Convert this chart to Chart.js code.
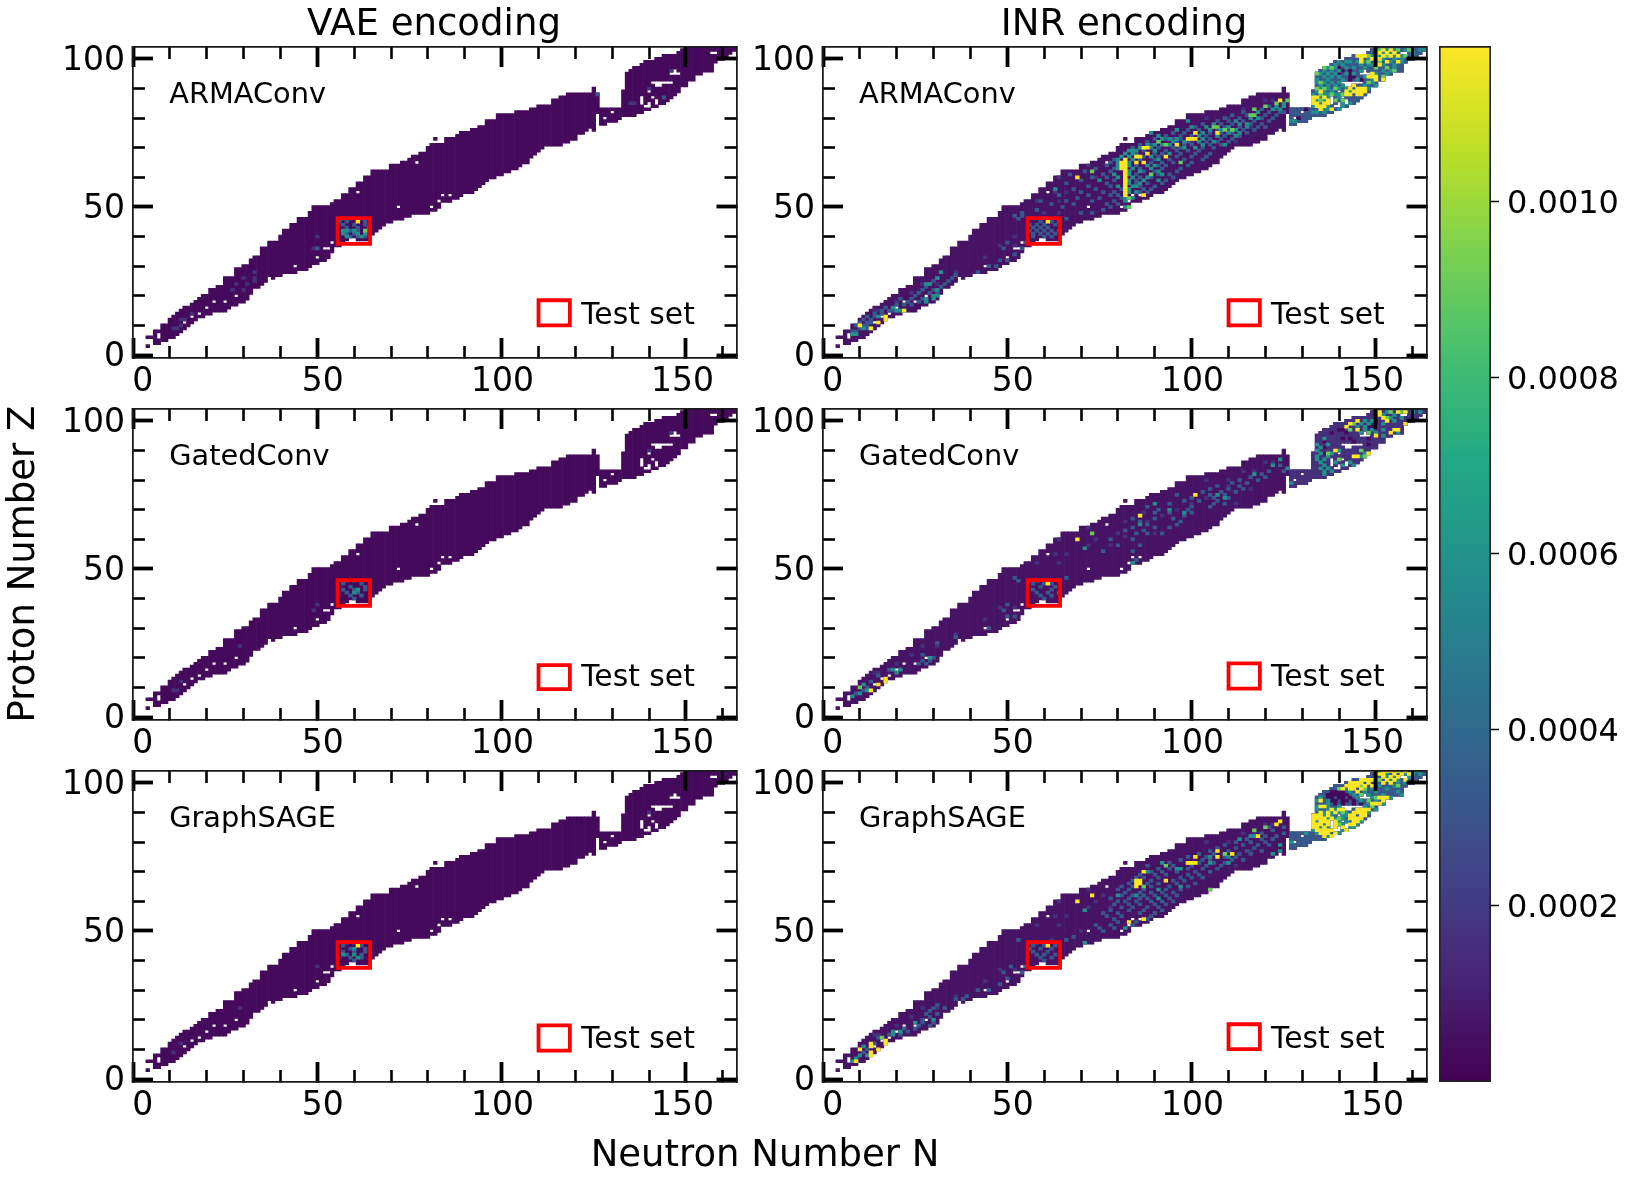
<!DOCTYPE html>
<html>
<head>
<meta charset="utf-8">
<script src="https://cdn.jsdelivr.net/npm/chart.js@4"></script>
<style>
  html, body { margin: 0; padding: 0; background: #fff; }
  body { position: relative; width: 1627px; height: 1184px; overflow: hidden; font-family: "DejaVu Sans", sans-serif; color: #000; }
  .holder { position: absolute; }
  .txt { position: absolute; white-space: nowrap; line-height: 1; }
</style>
</head>
<body>
<script>
// neutron number of the first column in zLow / zHigh
const firstN = 4;
const zLow = [
  3, 6, 4, 4, 5, 5, 6, 6, 7, 8,
  9, 10, 11, 12, 13, 13, 14, 14, 15, 15,
  15, 15, 16, 17, 17, 18, 18, 19, 21, 23,
  23, 24, 25, 26, 26, 27, 27, 28, 28, 28,
  28, 29, 29, 29, 30, 31, 31, 32, 32, 33,
  35, 36, 37, 38, 39, 39, 39, 39, 39, 39,
  39, 41, 42, 43, 44, 45, 45, 46, 46, 46,
  47, 47, 48, 48, 48, 48, 48, 49, 49, 50,
  52, 52, 52, 53, 53, 54, 55, 55, 55, 56,
  57, 58, 59, 60, 60, 61, 61, 62, 62, 63,
  63, 64, 65, 65, 67, 68, 69, 70, 71, 71,
  71, 71, 71, 72, 72, 73, 73, 75, 75, 76,
  76, 76, 77, 78, 78, 79, 79, 79, 80, 81,
  81, 81, 81, 82, 82, 83, 83, 84, 84, 85,
  85, 86, 87, 88, 89, 91, 91, 93, 93, 95,
  95, 96, 96, 96, 99, 100, 100, 101, 102, 103,
  103
];
const zHigh = [
  6, 6, 8, 8, 10, 10, 12, 13, 14, 15,
  16, 16, 17, 18, 19, 20, 20, 22, 22, 23,
  23, 26, 26, 26, 29, 29, 30, 30, 32, 33,
  33, 36, 36, 38, 38, 38, 40, 42, 42, 44,
  44, 46, 46, 46, 48, 50, 50, 50, 50, 50,
  51, 52, 52, 54, 54, 56, 56, 58, 58, 60,
  60, 62, 62, 62, 62, 62, 64, 64, 64, 65,
  65, 66, 67, 67, 68, 68, 70, 71, 73, 71,
  71, 73, 73, 73, 74, 75, 75, 75, 76, 76,
  77, 77, 79, 79, 79, 81, 81, 81, 81, 81,
  82, 82, 82, 82, 83, 83, 84, 84, 84, 84,
  86, 86, 87, 87, 88, 88, 88, 88, 88, 88,
  88, 90, 88, 83, 83, 83, 83, 83, 83, 89,
  95, 96, 97, 97, 98, 99, 99, 99, 100, 100,
  101, 101, 101, 101, 102, 103, 104, 104, 104, 104,
  104, 104, 104, 104, 104, 104, 104, 104, 104, 104,
  104
];
// rows are [Z, N, N, ...]
const holes = [
  [4, 4, 5], [5, 4, 5], [6, 7], [7, 7], [11, 14], [13, 16], [14, 18], [16, 20], [18, 22, 25], [20, 28], [26, 37],
  [30, 44], [33, 50], [36, 52, 53, 55, 56], [38, 54], [39, 59, 60], [50, 72, 81], [52, 83], [54, 84, 86],
  [55, 61], [65, 77], [72, 82], [76, 124], [77, 126], [78, 126], [79, 126], [80, 126, 128], [81, 126], [82, 130],
  [84, 139, 140], [85, 138, 140, 142], [86, 138, 142], [87, 138, 141], [89, 140], [91, 142, 143],
  [92, 141, 142, 143, 144, 145, 146], [95, 146, 147, 148], [96, 147], [102, 157, 158]
];

const xMajor = [0, 50, 100, 150];
const xMinor = [0, 10, 20, 30, 40, 50, 60, 70, 80, 90, 100, 110, 120, 130, 140, 150, 160];
const yMajor = [0, 50, 100];
const yMinor = [0, 10, 20, 30, 40, 50, 60, 70, 80, 90, 100];
const cbTicks = [0.0002, 0.0004, 0.0006, 0.0008, 0.001];
const cbMax = 0.001177;

const testBoxN = [55.5, 64.3];
const testBoxZ = [37.5, 46.2];
const legendBoxN = [110, 118.5];
const legendBoxZ = [[10, 18.5], [10, 18.5], [9.4, 17.5], [9.6, 18.1], [9.6, 18.1], [10.1, 18.5]];

const panelNames = ['ARMAConv', 'ARMAConv', 'GatedConv', 'GatedConv', 'GraphSAGE', 'GraphSAGE'];
const columnTitles = ['VAE encoding', 'INR encoding'];

// colour levels used for the cell lists
const levelDark = 0.00003, levelInr = 0.00006, levelIndigo = 0.00016, levelBlue = 0.00032;
const levelTeal = 0.00058, levelLime = 0.0009, levelYellow = 0.00118;

// VAE panels
const vaeArmaIndigo = [[9, 11, 12], [10, 13], [12, 13, 14], [14, 16], [22, 27, 30], [24, 28, 31], [26, 30, 33], [25, 33], [40, 50], [36, 49], [28, 33], [90, 140], [85, 135, 136], [96, 146], [98, 150]];
const vaeArmaBlue = [[46, 57, 59, 62], [45, 56, 58, 63], [44, 57, 60, 63], [43, 58, 61, 64], [42, 59, 61], [41, 58, 60], [40, 59, 61, 63], [36, 50], [87, 144], [88, 126]];
const vaeArmaTeal = [[42, 57, 58, 60], [41, 57, 61, 63], [40, 58, 62]];
const vaeArmaLime = [[42, 63]];
const vaeArmaYellow = [[45, 61]];

const vaeGatedIndigo = [[9, 11, 12], [12, 13], [24, 29], [38, 50], [36, 49], [90, 140], [96, 146]];
const vaeGatedBlue = [[46, 58, 60], [45, 57, 62], [44, 59, 63], [43, 57, 60, 63], [42, 58, 61], [41, 59, 62], [40, 60]];
const vaeGatedTeal = [[43, 61], [42, 60]];
const vaeGatedLime = [];
const vaeGatedYellow = [];

const vaeSageIndigo = [[9, 11], [12, 13], [24, 29], [38, 50], [90, 140]];
const vaeSageBlue = [[46, 58, 60], [45, 57, 62], [44, 59, 63], [43, 57, 60, 63], [42, 58, 62], [41, 59, 62], [40, 60]];
const vaeSageTeal = [[44, 60], [42, 57, 60], [41, 61]];
const vaeSageLime = [];
const vaeSageYellow = [[45, 61]];

// INR panels
const inrArmaDark = [[97, 138, 140], [96, 141, 143], [95, 140, 143], [94, 143, 144], [93, 143, 146], [83, 131], [80, 129]];
const inrArmaIndigo = [[12, 9], [15, 14, 15], [18, 20], [21, 24], [24, 27, 31], [28, 36], [33, 44], [37, 48, 52], [40, 52], [48, 60, 64], [52, 58, 64], [55, 63, 66], [58, 60], [60, 64, 74], [64, 68, 72], [70, 96], [72, 100, 112], [77, 116], [80, 104, 110], [83, 114, 117], [86, 120, 122]];
const inrArmaBlue = [
  [8, 8, 9], [9, 10, 12], [10, 9, 11, 12], [11, 10, 12, 13], [12, 11, 13], [13, 12, 14], [14, 14, 16], [15, 16, 18, 19],
  [16, 17, 20], [17, 20, 22, 24], [18, 23, 26], [19, 21, 24, 27], [20, 25, 28, 30], [21, 26, 29, 31], [22, 27, 30], [23, 28, 32],
  [24, 29, 33], [25, 30, 34], [26, 31, 35], [27, 36, 41], [28, 42], [30, 45, 47], [32, 48, 50], [34, 52], [36, 49, 54], [38, 50, 55],
  [45, 59, 62, 64], [44, 56, 58, 60, 63], [43, 57, 59, 61], [42, 56, 58, 60, 62, 64], [41, 57, 59, 61, 63], [40, 57, 60, 62],
  [47, 52, 54], [46, 53, 66], [48, 54, 70, 73], [49, 58, 76], [50, 65, 78], [51, 62, 68, 77, 80], [52, 59, 66, 73, 79],
  [53, 69, 75, 81], [54, 64, 72, 78, 80], [55, 70, 76, 79, 86, 88], [56, 68, 74, 81, 87, 89], [57, 72, 78, 86, 90],
  [58, 66, 77, 85, 88, 92], [59, 70, 79, 85, 93], [60, 73, 77, 86, 89, 95], [61, 67, 76, 85, 91, 94], [62, 71, 78, 87, 90, 96],
  [63, 74, 79, 86, 92, 97], [64, 77, 85, 91, 93, 99], [65, 78, 89, 92, 95, 100], [66, 79, 86, 90, 94, 98, 103],
  [67, 87, 91, 96, 100, 104], [68, 85, 90, 92, 97, 101, 105], [69, 87, 93, 96, 99, 102], [70, 84, 91, 95, 97, 103, 106],
  [71, 86, 89, 94, 98, 100, 105, 108], [72, 88, 91, 96, 99, 104, 107, 110], [73, 90, 93, 95, 97, 105, 108, 111],
  [74, 93, 97, 100, 104, 109, 113], [75, 95, 98, 105, 108, 111, 115], [76, 99, 102, 107, 110, 114, 117],
  [77, 101, 106, 109, 113, 118, 120], [78, 103, 108, 111, 116, 119], [79, 107, 110, 114, 117, 121], [80, 109, 113, 119, 122],
  [81, 111, 115, 120, 123], [82, 114, 121, 124, 125], [83, 119, 123], [84, 121]
];
const inrArmaTeal = [
  [7, 8, 9], [9, 11, 13], [11, 14], [13, 15], [15, 20, 21, 22], [16, 19], [18, 25, 28], [19, 28, 30], [20, 30, 31], [22, 31], [24, 28, 29], [26, 31], [28, 32],
  [69, 83, 84, 85, 90], [68, 82, 84, 94], [67, 81, 83, 89], [66, 80, 84, 91], [65, 80, 83], [64, 80, 83, 88, 90], [63, 80, 84, 89],
  [62, 83, 86, 91], [61, 79, 83, 92], [60, 80, 84, 88], [59, 75, 83, 87, 91], [58, 83, 86], [57, 80, 84, 85], [56, 63, 83], [55, 83, 85],
  [53, 82, 84], [52, 82], [50, 81, 82], [72, 95, 98, 102, 106], [73, 92, 94, 96, 103], [71, 88, 90, 92, 94, 103, 109], [70, 86, 89, 98, 101],
  [74, 91, 102, 107, 112], [75, 89, 103, 110, 113], [76, 96, 105, 108, 112], [77, 100, 104, 110, 115], [78, 106, 113, 115], [79, 99, 112],
  [80, 116, 118], [82, 118], [83, 122, 124], [84, 123, 125], [85, 125], [79, 127, 128], [78, 129, 130], [77, 127],
  [99, 140, 142, 143], [98, 139, 141, 146, 149], [97, 137, 139, 142, 144, 147, 155], [96, 136, 138, 140, 146, 152, 154],
  [95, 135, 137, 139, 142, 144, 150, 153], [94, 136, 138, 140, 147, 152, 154], [93, 134, 137, 141, 145, 149], [92, 134, 136, 138, 140, 149, 151],
  [91, 133, 135, 137, 139, 141, 147, 150], [90, 133, 135, 137, 140, 142, 148], [89, 134, 136, 138, 143, 149], [88, 133, 136, 137, 139, 140],
  [87, 135, 137, 140, 141], [86, 134, 136, 142], [85, 135, 141, 143], [84, 133, 137, 141], [83, 136, 137, 140], [82, 133, 134, 136, 139],
  [103, 153, 155, 158, 162, 163], [102, 150, 152, 154, 160], [101, 149, 151, 155, 157], [100, 148, 150, 152, 155, 157], [99, 145, 147, 150, 154, 157], [98, 148, 150, 152, 155]
];
const inrArmaLime = [
  [61, 89], [62, 73], [65, 97], [71, 93], [72, 91], [77, 106, 107], [76, 109, 111], [81, 116, 117], [83, 117], [84, 120], [85, 123], [86, 126], [50, 83], [53, 83],
  [97, 136, 138], [95, 134], [92, 135], [90, 134, 136, 139], [88, 135, 138, 141], [86, 135, 139, 141], [85, 140],
  [103, 151, 156, 159], [101, 148, 150, 153, 158], [99, 148, 151], [97, 150, 153], [96, 155], [94, 152], [92, 148]
];
const inrArmaYellow = [
  [66, 82], [65, 81, 82], [64, 81, 82], [63, 81, 82], [62, 82], [61, 82], [60, 82, 69], [59, 82], [58, 82], [57, 82], [56, 82], [55, 82], [54, 82, 87],
  [67, 85, 86, 93], [68, 88], [70, 87, 88], [65, 85, 87], [75, 101, 107], [73, 99, 100, 101], [71, 96], [45, 61], [86, 124],
  [10, 10], [9, 13], [11, 15], [12, 17], [13, 17], [15, 22], [20, 32],
  [89, 135, 142, 144, 145, 146, 147], [87, 133, 134, 136], [86, 133, 137], [85, 133, 134, 136, 137], [84, 134, 135, 136], [83, 135, 138],
  [91, 143, 144], [90, 143, 145, 146, 147], [88, 142, 143, 145, 146], [95, 149], [94, 148, 149, 150], [93, 150, 152], [98, 151],
  [102, 151, 153, 155], [103, 152, 154], [101, 145, 146, 147, 152, 154, 156], [100, 146, 149, 151], [99, 146, 153, 156]
];

const inrGatedDark = [[97, 140, 141], [96, 138, 142], [94, 141, 143], [93, 136, 144], [91, 136], [89, 136], [98, 148, 149], [94, 148], [92, 148], [90, 150]];
const inrGatedIndigo = [[12, 9], [15, 14, 15], [18, 20], [21, 24], [24, 27, 31], [28, 36], [33, 44], [37, 48, 52], [52, 58, 64], [55, 63, 66], [60, 64, 74], [64, 68, 72], [66, 82, 88], [70, 96], [72, 100, 112], [77, 116], [80, 104, 110], [83, 114, 117], [86, 120, 122], [58, 72, 78], [62, 80, 90], [68, 92], [74, 104], [78, 110], [61, 82], [69, 87]];
const inrGatedBlue = [
  [8, 9], [9, 11], [10, 12], [12, 13], [14, 15], [16, 18], [18, 26, 28], [19, 27, 29], [20, 28, 30], [21, 27], [25, 31], [27, 36], [30, 45], [34, 50, 52], [36, 49], [38, 50],
  [46, 53, 58], [45, 57, 60, 62], [44, 59, 63], [43, 57, 62], [42, 58, 61, 64], [41, 59, 62], [40, 60], [47, 52, 66],
  [52, 84, 83], [53, 85], [56, 76, 84], [58, 80, 86], [60, 78, 84], [62, 85, 88, 92], [63, 82, 87], [64, 84, 90, 94], [65, 88, 96], [66, 86, 97],
  [67, 84, 90, 95], [68, 86, 98], [69, 90, 94, 100], [70, 91, 99], [71, 88, 100, 105], [72, 94, 106, 109], [73, 98, 102, 107], [74, 100, 106, 110], [75, 96, 105, 109],
  [76, 103, 108, 112], [77, 105, 110, 114], [78, 107, 113], [79, 111, 115], [80, 113, 118], [81, 116, 120], [82, 119], [83, 121, 125], [85, 124]
];
const inrGatedTeal = [
  [7, 8], [8, 10], [9, 12], [11, 11], [15, 20], [16, 19, 21], [20, 29], [52, 84], [57, 71], [65, 86], [69, 98], [70, 94], [72, 90], [75, 107], [74, 109], [82, 117], [87, 124], [85, 122], [84, 126], [79, 127], [78, 131], [77, 128],
  [100, 147, 149], [99, 146, 148, 152], [98, 145, 147, 150], [97, 147, 149, 152], [96, 146, 150, 156], [95, 152, 155], [94, 136, 153], [92, 134, 137], [91, 135], [90, 134, 140], [89, 135, 138, 147], [88, 134, 137, 146], [87, 134, 136, 148], [86, 135, 139, 143], [85, 136, 141, 144], [84, 135, 137], [83, 136, 138], [82, 136],
  [103, 153, 160, 162], [102, 152, 155, 158], [101, 154, 157], [100, 155]
];
const inrGatedLime = [[10, 10], [62, 73], [90, 146], [88, 147], [99, 144], [97, 143], [96, 148], [101, 153], [103, 154, 157], [89, 137], [87, 140]];
const inrGatedYellow = [
  [12, 17], [13, 17], [11, 15], [9, 13], [20, 32], [45, 61], [60, 69], [68, 86], [75, 101],
  [98, 142], [99, 143], [100, 145], [97, 145, 155, 156], [95, 150], [96, 154], [94, 155], [90, 139], [87, 141], [88, 145, 144], [89, 148],
  [102, 151], [103, 151, 156, 158], [100, 153], [99, 158], [101, 152]
];

const inrSageDark = [[97, 138, 139, 140, 141], [96, 137, 138, 139, 140, 141, 142], [95, 137, 138, 140, 141, 143], [94, 138, 139, 141, 142, 144], [93, 139, 141, 144, 146], [91, 133], [99, 150]];
const inrSageIndigo = [[12, 9], [15, 14, 15], [18, 20], [21, 24], [24, 27, 31], [28, 36], [33, 44], [37, 48, 52], [52, 58, 64], [55, 63, 66], [60, 64, 74], [64, 68, 72], [70, 96], [72, 100, 112], [77, 116], [80, 104, 110], [83, 114, 117], [86, 120, 122], [58, 72, 78], [62, 76], [50, 70], [47, 62]];
const inrSageBlue = [
  [9, 11], [10, 12], [12, 14], [14, 15], [15, 18, 21], [16, 23], [17, 22, 25], [18, 26, 29], [19, 27, 30], [20, 27], [21, 29], [22, 28, 31], [23, 29], [24, 30, 33], [25, 31], [27, 36, 38], [28, 39], [30, 42, 45], [32, 48], [34, 50], [36, 49, 54], [38, 51, 55],
  [46, 58, 63], [45, 57, 60, 63], [44, 56, 59, 62], [43, 57, 61], [42, 58, 60, 63], [41, 59, 62], [40, 60], [47, 53, 66],
  [48, 68], [50, 76], [51, 75, 79], [52, 74, 78, 84], [53, 80, 85], [54, 79, 88], [55, 77, 81, 89], [56, 76, 80, 86, 90], [57, 78, 83, 87, 92], [58, 81, 84, 88, 91], [59, 79, 83, 86, 90, 93],
  [60, 80, 82, 85, 89, 92, 95], [61, 78, 83, 86, 88, 94], [62, 81, 84, 87, 90, 93, 96], [63, 82, 86, 89, 92, 95], [64, 80, 83, 87, 93, 97], [65, 81, 84, 89, 94, 99], [66, 83, 88, 91, 96, 101], [67, 84, 89, 95, 98], [68, 85, 87, 91, 97, 100, 103], [69, 86, 90, 93, 99, 102],
  [70, 89, 92, 96, 101, 105], [71, 91, 94, 99, 103, 107], [72, 88, 95, 100, 104, 108], [73, 94, 102, 106, 109], [74, 97, 103, 105, 111, 114], [75, 99, 104, 109, 112], [76, 102, 106, 113, 116], [77, 105, 110, 115, 119], [78, 107, 112, 117], [79, 109, 114, 118, 121], [80, 112, 116, 120], [81, 115, 119, 122], [82, 120, 123], [83, 119, 125], [84, 122], [85, 121, 125]
];
const inrSageTeal = [
  [6, 8], [7, 9], [8, 10, 12], [11, 11], [15, 19], [16, 19, 21], [22, 33], [19, 25], [20, 30], [46, 71], [51, 82], [57, 71], [61, 91], [62, 80, 85], [64, 91], [65, 97], [70, 88], [71, 96, 97], [73, 92, 105, 110], [75, 105, 110], [76, 122], [77, 124], [81, 113], [82, 116, 117], [79, 124], [80, 127], [78, 129, 130], [79, 132], [83, 131],
  [100, 141, 150], [99, 151, 155], [98, 142, 149, 153], [97, 143, 147, 150, 156], [96, 144, 148, 152, 157], [95, 135, 145, 149, 154], [94, 134, 137, 146, 150], [93, 133, 137, 148, 152], [92, 134, 137, 140, 147], [91, 134, 137, 139, 150], [90, 133, 136, 138, 140, 142, 148], [89, 136, 138, 141, 142, 150], [88, 137, 139, 141, 149], [87, 134, 140, 142, 146], [86, 136, 141, 145], [85, 135, 137, 143, 144], [84, 133, 141], [83, 134, 140], [82, 137],
  [104, 157, 160, 161], [103, 153, 158, 160, 162], [102, 153, 155, 159], [101, 150, 154, 156], [100, 156, 158]
];
const inrSageLime = [[14, 16], [64, 105], [65, 87], [72, 93], [73, 99], [76, 109], [84, 117], [85, 120], [98, 140, 147], [96, 146], [94, 148, 155], [92, 149], [90, 141], [88, 140], [86, 140], [95, 150], [99, 146, 156], [101, 151], [104, 155]];
const inrSageYellow = [
  [6, 9], [10, 10, 15], [12, 13, 17], [13, 17], [14, 18], [11, 13], [9, 13], [8, 13, 14], [20, 32],
  [45, 61], [53, 83], [54, 87], [60, 69], [62, 73], [65, 85], [66, 85, 86], [67, 85, 86, 93], [70, 87], [73, 99, 100, 101], [75, 101, 107], [76, 111], [77, 107], [82, 118], [86, 123], [87, 124],
  [104, 152, 153, 154, 156, 158], [103, 151, 152, 155, 157, 159], [102, 152, 154, 156], [101, 146, 147, 148, 149, 153, 155, 158], [100, 143, 144, 145, 146, 148, 152, 154], [99, 142, 143, 144, 145, 147, 149], [98, 141, 143, 144, 146], [97, 145],
  [95, 151, 152, 153], [94, 152, 153, 154], [93, 149, 150, 151], [91, 145, 146, 147, 148], [90, 144, 145, 146, 147], [89, 143, 144, 146, 147, 149], [88, 143, 144, 145, 146, 148], [87, 144, 145, 147], [86, 143, 144],
  [92, 135, 136], [94, 135], [89, 133, 134, 135, 137], [88, 133, 134, 135, 136, 138], [87, 133, 135, 136, 137, 139], [86, 133, 134, 135, 137, 139], [85, 133, 134, 136, 139, 141], [84, 134, 135, 136, 137, 138, 142], [83, 135, 136, 137, 139, 141], [82, 136, 138, 139], [91, 138, 140, 141], [90, 135, 137, 139]
];

const viridisStops = ['#440154', '#482475', '#414487', '#355f8d', '#2a788e', '#21918c', '#22a884', '#44bf70', '#7ad151', '#bddf26', '#fde725'];

const panelCells = [
  { base: levelDark, tint: null, dark: [], indigo: vaeArmaIndigo, blue: vaeArmaBlue, teal: vaeArmaTeal, lime: vaeArmaLime, yellow: vaeArmaYellow },
  { base: levelInr, tint: levelBlue, dark: inrArmaDark, indigo: inrArmaIndigo, blue: inrArmaBlue, teal: inrArmaTeal, lime: inrArmaLime, yellow: inrArmaYellow },
  { base: levelDark, tint: null, dark: [], indigo: vaeGatedIndigo, blue: vaeGatedBlue, teal: vaeGatedTeal, lime: vaeGatedLime, yellow: vaeGatedYellow },
  { base: levelInr, tint: levelIndigo, dark: inrGatedDark, indigo: inrGatedIndigo, blue: inrGatedBlue, teal: inrGatedTeal, lime: inrGatedLime, yellow: inrGatedYellow },
  { base: levelDark, tint: null, dark: [], indigo: vaeSageIndigo, blue: vaeSageBlue, teal: vaeSageTeal, lime: vaeSageLime, yellow: vaeSageYellow },
  { base: levelInr, tint: levelBlue, dark: inrSageDark, indigo: inrSageIndigo, blue: inrSageBlue, teal: inrSageTeal, lime: inrSageLime, yellow: inrSageYellow }
];

// layout of the figure, full size pixels
const colLeft = [132.7, 822.5];
const rowTop = [46.5, 409, 771];
const plotW = 602.5, plotH = 311;
const xMax = 163.7, yMin = -1, yMax = 104;
const gutterLeft = 72, gutterTop = 14, gutterRight = 18, gutterBottom = 50;
const TICK_FONT = 33;

Chart.defaults.font.family = '"DejaVu Sans"';
Chart.defaults.color = '#000';

function viridis(v) {
  const t = Math.min(1, Math.max(0, v / cbMax)) * (viridisStops.length - 1);
  const i = Math.min(viridisStops.length - 2, Math.floor(t));
  const f = t - i;
  const a = hexRgb(viridisStops[i]), b = hexRgb(viridisStops[i + 1]);
  return `rgb(${a.map((c, k) => Math.round(c + (b[k] - c) * f)).join(',')})`;
}
function hexRgb(h) {
  return [1, 3, 5].map(p => parseInt(h.substr(p, 2), 16));
}

const holeSet = new Set();
holes.forEach(r => r.slice(1).forEach(n => holeSet.add(n + ':' + r[0])));

function inMask(n, z) {
  const i = n - firstN;
  return i >= 0 && i < zLow.length && z >= zLow[i] && z <= zHigh[i] && !holeSet.has(n + ':' + z);
}

// column runs between the holes, from neutron number fromN upward
function maskBars(fromN) {
  const out = [];
  zLow.forEach((lo, i) => {
    const n = i + firstN;
    if (n < fromN) return;
    let start = null;
    for (let z = lo; z <= zHigh[i] + 1; z++) {
      if (z <= zHigh[i] && inMask(n, z)) {
        if (start === null) start = z;
      } else if (start !== null) {
        out.push({ x: n, y: [start - 0.5, z - 0.5] });
        start = null;
      }
    }
  });
  return out;
}

function cellBars(rows) {
  const out = [];
  rows.forEach(r => r.slice(1).forEach(n => {
    if (inMask(n, r[0])) out.push({ x: n, y: [r[0] - 0.5, r[0] + 0.5] });
  }));
  return out;
}

function barSet(data, value, order) {
  return {
    type: 'bar', data, order, xAxisID: 'x', yAxisID: 'y',
    backgroundColor: viridis(value), borderWidth: 0,
    grouped: false, barPercentage: 1, categoryPercentage: 1
  };
}

function boxSet(ns, zs, width) {
  return {
    type: 'line', order: 0, xAxisID: 'x', yAxisID: 'y', clip: false,
    data: [
      { x: ns[0], y: zs[0] }, { x: ns[1], y: zs[0] }, { x: ns[1], y: zs[1] },
      { x: ns[0], y: zs[1] }, { x: ns[0], y: zs[0] }
    ],
    borderColor: '#ff0000', borderWidth: width, borderCapStyle: 'square', borderJoinStyle: 'miter',
    pointRadius: 0, tension: 0, fill: false
  };
}

// axis that only draws inward ticks and a frame edge
function tickAxis(position, values, len, width, extra) {
  const horizontal = position === 'top' || position === 'bottom';
  return Object.assign({
    type: 'linear', position, axis: horizontal ? 'x' : 'y',
    min: horizontal ? 0 : yMin, max: horizontal ? xMax : yMax,
    weight: 0,
    offset: false,
    afterBuildTicks: s => { s.ticks = values.map(v => ({ value: v })); },
    afterFit: s => {
      if (horizontal) s.height = 0; else s.width = 0;
      s.paddingLeft = s.paddingRight = s.paddingTop = s.paddingBottom = 0;
    },
    ticks: { display: false, autoSkip: false },
    border: { display: true, color: '#1a1a1a', width: 1.5, z: 2 },
    grid: { offset: false, drawOnChartArea: false, drawTicks: true, tickLength: -len, tickWidth: width, tickColor: '#000', z: 2 }
  }, extra || {});
}

function panelScales() {
  const MAJ = 20, MIN = 12, MAJW = 3.8, MINW = 2.6;
  return {
    x: tickAxis('bottom', xMajor, MAJ, MAJW),
    xb: tickAxis('bottom', xMinor, MIN, MINW),
    xt: tickAxis('top', xMajor, MAJ, MAJW),
    xt2: tickAxis('top', xMinor, MIN, MINW),
    yr: tickAxis('right', yMajor, MAJ, MAJW),
    yr2: tickAxis('right', yMinor, MIN, MINW),
    yl: tickAxis('left', yMinor, MIN, MINW),
    // this one carries the Z labels, tick length is negative so padding has to make up for it
    y: tickAxis('left', yMajor, MAJ, MAJW, {
      weight: 2,
      afterFit: s => { s.width = gutterLeft; s.paddingTop = s.paddingBottom = s.paddingLeft = s.paddingRight = 0; },
      ticks: { display: true, autoSkip: false, maxRotation: 0, padding: 28, labelOffset: 2.5, font: { size: TICK_FONT }, color: '#000', callback: v => String(v) }
    }),
    // N labels sit a little off their tick marks in the figure, so they get their own scale
    xl: {
      type: 'linear', position: 'bottom', axis: 'x', min: -2.72, max: 165, weight: 2,
      offset: false,
      afterBuildTicks: s => { s.ticks = xMajor.map(v => ({ value: v })); },
      afterFit: s => { s.height = gutterBottom; s.paddingLeft = s.paddingRight = s.paddingTop = s.paddingBottom = 0; },
      border: { display: false },
      grid: { display: false, drawTicks: false, offset: false },
      ticks: { autoSkip: false, maxRotation: 0, padding: 5, font: { size: TICK_FONT }, color: '#000', callback: v => String(v) }
    }
  };
}

function addText(str, left, cy, size, opts) {
  const d = document.createElement('div');
  d.className = 'txt';
  d.textContent = str;
  d.style.fontSize = size + 'px';
  d.style.left = left + 'px';
  d.style.top = cy + 'px';
  d.style.transform = (opts && opts.transform) || 'translateY(-50%)';
  document.body.appendChild(d);
}

function addCanvas(left, top, w, h) {
  const holder = document.createElement('div');
  holder.className = 'holder';
  holder.style.left = left + 'px';
  holder.style.top = top + 'px';
  holder.style.width = w + 'px';
  holder.style.height = h + 'px';
  const c = document.createElement('canvas');
  c.width = w;
  c.height = h;
  c.style.display = 'block';
  holder.appendChild(c);
  document.body.appendChild(holder);
  return c;
}

panelCells.forEach((cells, idx) => {
  const col = idx % 2, row = Math.floor(idx / 2);
  const left = colLeft[col], top = rowTop[row];
  const canvas = addCanvas(left - gutterLeft, top - gutterTop, Math.ceil(gutterLeft + plotW + gutterRight), gutterTop + plotH + gutterBottom);
  const datasets = [
    boxSet(testBoxN, testBoxZ, 3.8),
    boxSet(legendBoxN, legendBoxZ[idx], 3.8),
    barSet(cellBars(cells.yellow), levelYellow, 1),
    barSet(cellBars(cells.lime), levelLime, 2),
    barSet(cellBars(cells.teal), levelTeal, 3),
    barSet(cellBars(cells.dark), levelDark, 4),
    barSet(cellBars(cells.blue), levelBlue, 5),
    barSet(cellBars(cells.indigo), levelIndigo, 6)
  ];
  if (cells.tint) datasets.push(barSet(maskBars(127), cells.tint, 7));
  datasets.push(barSet(maskBars(firstN), cells.base, 8));

  new Chart(canvas, {
    type: 'bar',
    data: { datasets },
    options: {
      responsive: false,
      animation: false,
      layout: { padding: { top: gutterTop, right: gutterRight - 0.5, left: 0, bottom: 0 } },
      plugins: { legend: { display: false }, tooltip: { enabled: false } },
      scales: panelScales()
    }
  });

  addText(panelNames[idx], left + 36.5, top + 46, 28.8);
  addText('Test set', left + 448.5, top + 267, 29.8);
});

// colour bar
const cbLeft = 1439, cbTop = 46, cbW = 52, cbH = 1036;
const cbCanvas = addCanvas(cbLeft, cbTop - 4, 1627 - cbLeft, cbH + 8);
new Chart(cbCanvas, {
  type: 'bar',
  data: {
    labels: ['err'],
    datasets: [{
      data: [[0, cbMax]],
      barPercentage: 1,
      categoryPercentage: 1,
      borderWidth: 2,
      borderColor: '#222',
      borderSkipped: false,
      backgroundColor: c => {
        const a = c.chart.chartArea;
        if (!a) return '#440154';
        const g = c.chart.ctx.createLinearGradient(0, a.bottom, 0, a.top);
        viridisStops.forEach((s, i) => g.addColorStop(i / (viridisStops.length - 1), s));
        return g;
      }
    }]
  },
  options: {
    responsive: false,
    animation: false,
    layout: { padding: { top: 4, bottom: 4, left: 0, right: 0 } },
    plugins: { legend: { display: false }, tooltip: { enabled: false } },
    scales: {
      x: { display: false },
      y: {
        position: 'right',
        min: 0,
        max: cbMax,
        afterBuildTicks: s => { s.ticks = cbTicks.map(v => ({ value: v })); },
        afterFit: s => { s.width = 1627 - cbLeft - cbW; s.paddingTop = s.paddingBottom = 0; },
        border: { display: false },
        grid: { drawOnChartArea: false, tickLength: 8, tickWidth: 1.5, tickColor: '#000' },
        ticks: { autoSkip: false, padding: 8, labelOffset: 3, font: { size: 32 }, color: '#000', callback: v => v.toFixed(4) }
      }
    }
  }
});

addText(columnTitles[0], 434, 23, 37.1, { transform: 'translate(-50%,-50%)' });
addText(columnTitles[1], 1124, 23, 37.1, { transform: 'translate(-50%,-50%)' });
addText('Neutron Number N', 765, 1153, 37, { transform: 'translate(-50%,-50%)' });
addText('Proton Number Z', 21, 564, 37, { transform: 'translate(-50%,-50%) rotate(-90deg)' });
</script>
</body>
</html>
